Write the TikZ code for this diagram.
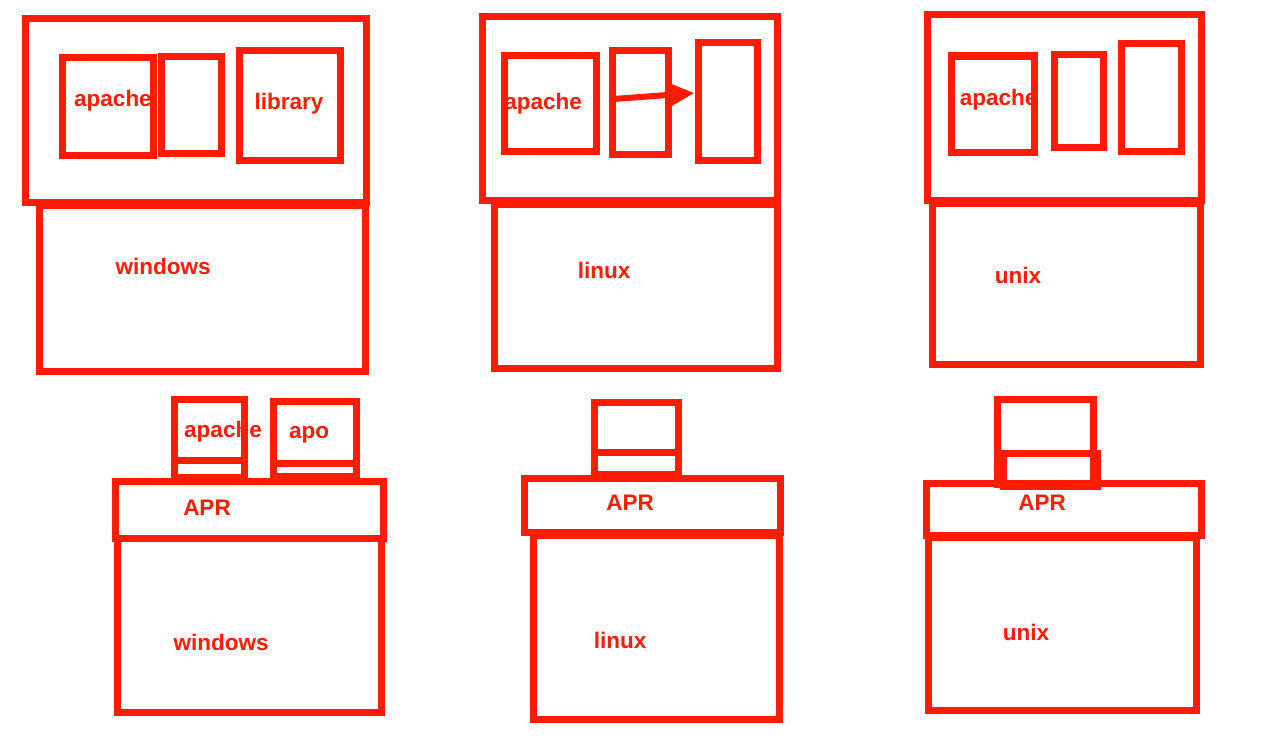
\documentclass[tikz,border=0pt]{standalone}
\usepackage{fontspec}
\setmainfont{Liberation Sans}
\usetikzlibrary{arrows.meta,calc}
\definecolor{penred}{RGB}{255,28,0}

\begin{document}
\begin{tikzpicture}[y = -1cm,
		frame/.style = {draw = penred, line width = 0.07cm, inner sep = 0pt, rectangle},
		word/.style = {text = penred, font = \fontsize{6.4}{7}\selectfont\bfseries, inner sep = 0pt, anchor = base, yshift = -0.08cm}]
	
		\useasboundingbox (0, 0) rectangle (12.71, 7.39);
		
		% windows, no APR
		\node[frame, minimum width = 3.41cm, minimum height = 1.84cm] (wintop) at (1.955, 1.10) {};
		\node[frame, minimum width = 3.26cm, minimum height = 1.66cm] (winos) at (2.02, 2.88) {};
		\node[frame, minimum width = 0.91cm, minimum height = 0.98cm] (winapache) at (1.075, 1.06) {};
		\node[frame, minimum width = 0.60cm, minimum height = 0.97cm] (winmid) at (1.91, 1.045) {};
		\node[frame, minimum width = 1.01cm, minimum height = 1.10cm] (winlib) at (2.895, 1.05) {};
		\node[word] (winapachetxt) at (1.13, 0.98) {apache};
		\node[word] (winlibtxt) at (2.89, 1.01) {library};
		\node[word] (winostxt) at (1.63, 2.66) {windows};
		
		% linux, no APR
		\node[frame, minimum width = 2.95cm, minimum height = 1.84cm] (lintop) at (6.295, 1.08) {};
		\node[frame, minimum width = 2.83cm, minimum height = 1.64cm] (linos) at (6.355, 2.86) {};
		\node[frame, minimum width = 0.92cm, minimum height = 0.96cm] (linapache) at (5.50, 1.03) {};
		\node[frame, minimum width = 0.56cm, minimum height = 1.04cm] (linmid) at (6.40, 1.02) {};
		\node[frame, minimum width = 0.59cm, minimum height = 1.18cm] (linright) at (7.275, 1.01) {};
		\node[word] (linapachetxt) at (5.43, 1.01) {apache};
		\node[word] (linostxt) at (6.04, 2.70) {linux};
		\draw[penred, line width = 0.06cm, -{Triangle[length = 0.25cm, width = 0.22cm]}]
			($(linmid.west) + (0.05, -0.03)$) -- ($(linright.west) + (0, -0.08)$);
		
		% unix, no APR
		\node[frame, minimum width = 2.74cm, minimum height = 1.86cm] (unitop) at (10.64, 1.07) {};
		\node[frame, minimum width = 2.68cm, minimum height = 1.61cm] (unios) at (10.66, 2.835) {};
		\node[frame, minimum width = 0.83cm, minimum height = 0.96cm] (uniapache) at (9.925, 1.04) {};
		\node[frame, minimum width = 0.49cm, minimum height = 0.93cm] (unimid) at (10.785, 1.005) {};
		\node[frame, minimum width = 0.60cm, minimum height = 1.08cm] (uniright) at (11.51, 0.97) {};
		\node[word] (uniapachetxt) at (9.985, 0.97) {apache};
		\node[word] (uniostxt) at (10.18, 2.75) {unix};
		
		% windows with APR
		\node[frame, minimum width = 2.64cm, minimum height = 1.74cm] (winosb) at (2.49, 6.25) {};
		\node[frame, minimum width = 2.68cm, minimum height = 0.57cm] (winapr) at (2.49, 5.095) {};
		\node[frame, minimum width = 0.70cm, minimum height = 0.78cm] (winapacheb) at (2.09, 4.38) {};
		\node[frame, minimum width = 0.70cm, minimum height = 0.17cm] (winapachefoot) at (2.09, 4.685) {};
		\node[frame, minimum width = 0.83cm, minimum height = 0.75cm] (winapo) at (3.145, 4.385) {};
		\node[frame, minimum width = 0.83cm, minimum height = 0.13cm] (winapofoot) at (3.145, 4.695) {};
		\node[word] (winapachebtxt) at (2.23, 4.29) {apache};
		\node[word] (winapotxt) at (3.09, 4.30) {apo};
		\node[word] (winaprtxt) at (2.07, 5.07) {APR};
		\node[word] (winosbtxt) at (2.21, 6.42) {windows};
		
		% linux with APR
		\node[frame, minimum width = 2.46cm, minimum height = 1.84cm] (linosb) at (6.56, 6.27) {};
		\node[frame, minimum width = 2.56cm, minimum height = 0.54cm] (linapr) at (6.52, 5.05) {};
		\node[frame, minimum width = 0.84cm, minimum height = 0.72cm] (linappb) at (6.36, 4.38) {};
		\node[frame, minimum width = 0.84cm, minimum height = 0.22cm] (linappfoot) at (6.36, 4.63) {};
		\node[word] (linaprtxt) at (6.30, 5.02) {APR};
		\node[word] (linosbtxt) at (6.20, 6.40) {linux};
		
		% unix with APR
		\node[frame, minimum width = 2.68cm, minimum height = 1.73cm] (uniosb) at (10.62, 6.235) {};
		\node[frame, minimum width = 2.75cm, minimum height = 0.52cm] (uniapr) at (10.635, 5.09) {};
		\node[frame, minimum width = 0.96cm, minimum height = 0.85cm] (uniappb) at (10.45, 4.415) {};
		\node[frame, minimum width = 0.94cm, minimum height = 0.33cm] (uniappfoot) at (10.50, 4.695) {};
		\node[word] (uniaprtxt) at (10.42, 5.02) {APR};
		\node[word] (uniosbtxt) at (10.26, 6.32) {unix};
		
	\end{tikzpicture}
\end{document}
